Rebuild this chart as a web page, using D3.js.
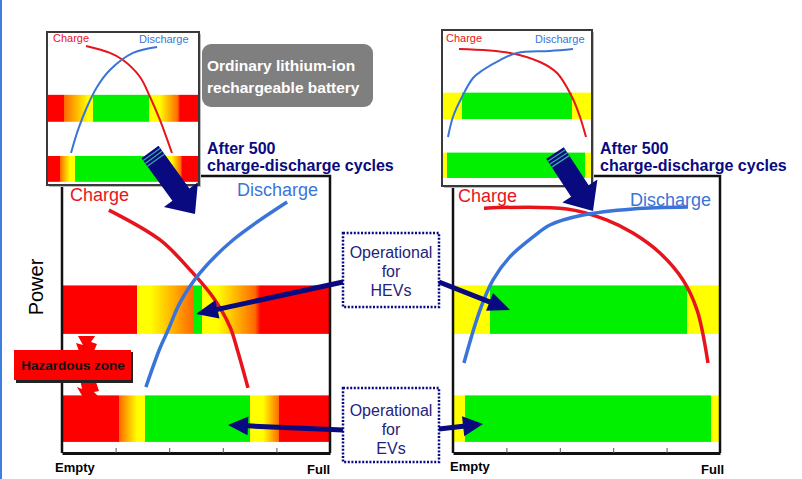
<!DOCTYPE html>
<html>
<head>
<meta charset="utf-8">
<script src="https://cdn.jsdelivr.net/npm/d3@7"></script>
<style>
  body { margin: 0; background: #fff; }
  svg { display: block; font-family: 'Liberation Sans', Arial, sans-serif; }
</style>
</head>
<body>
<div class="canvas"></div>
<script>
// x = state of charge (%), y = power (%)
const socTicks = [20, 40, 60, 80]
const bands = ['HEV', 'EV']
const bandPower = [[43, 60.5], [4, 20.8]]
const zones = ['hazard', 'marginal', 'caution', 'operational']

// ordinary battery, new (small inset)
const ordNewCharge = [[25.7, 92.2], [41.4, 87.7], [50.0, 83.1], [61.2, 72.1], [67.8, 59.1], [74.3, 44.2], [82.2, 22.7]]
const ordNewDischarge = [[72.4, 91.6], [56.6, 87.7], [41.4, 76.6], [32.9, 65.6], [26.3, 52.6], [20.4, 37.7], [15.8, 22.7]]
const ordNewHEV = [[0, 'hazard'], [11.2, 'hazard'], [11.2, 'marginal'], [27, 'caution'], [30.3, 'caution'], [30.3, 'operational'],
  [67.1, 'operational'], [67.1, 'caution'], [74, 'caution'], [86, 'marginal'], [87.5, 'hazard'], [100, 'hazard']]
const ordNewEV = [[0, 'hazard'], [8.6, 'hazard'], [8.6, 'marginal'], [15, 'caution'], [18.4, 'caution'], [18.4, 'operational'],
  [77.6, 'operational'], [77.6, 'caution'], [82, 'caution'], [88, 'marginal'], [89, 'hazard'], [100, 'hazard']]

// ordinary battery after 500 cycles
const ordAgedCharge = [[17.5, 87.7], [36.6, 76.9], [47.8, 66.1], [56.3, 56.3], [62.7, 45.5], [65.5, 37], [69.4, 23.5]]
const ordAgedDischarge = [[84.0, 90.6], [63.8, 76.9], [51.5, 65.0], [44.0, 54.2], [39.6, 44.4], [36.6, 38], [31.3, 23.8]]
const ordAgedHEV = [[0, 'hazard'], [28, 'hazard'], [28, 'caution'], [33, 'caution'], [49, 'marginal'], [49, 'operational'],
  [52.2, 'operational'], [52.2, 'caution'], [58, 'caution'], [72, 'marginal'], [74, 'hazard'], [100, 'hazard']]
const ordAgedEV = [[0, 'hazard'], [21.3, 'hazard'], [21.3, 'marginal'], [28, 'caution'], [31, 'caution'], [31, 'operational'],
  [70.1, 'operational'], [70.1, 'caution'], [75, 'caution'], [81, 'marginal'], [81, 'hazard'], [100, 'hazard']]

// second battery, new (small inset)
const newCharge = [[11.3, 89.4], [45.3, 86.8], [65.3, 80.8], [76.7, 73.5], [86.7, 57.6], [92.0, 44.4], [96.0, 31.1]]
const newDischarge = [[4.0, 31.1], [7.3, 44.4], [13.3, 57.6], [20.7, 70.2], [27.3, 75.5], [38.7, 82.1], [50.0, 86.8], [72.0, 88.1], [87.3, 89.4]]
const newHEV = [[0, 'caution'], [13.3, 'caution'], [13.3, 'operational'], [86.7, 'operational'], [86.7, 'caution'], [100, 'caution']]
const newEV = [[0, 'caution'], [3.3, 'caution'], [3.3, 'operational'], [95.3, 'operational'], [95.3, 'caution'], [100, 'caution']]

// second battery after 500 cycles
const agedCharge = [[11.6, 88.4], [42.7, 88.1], [57.7, 84.1], [67.4, 79.4], [77.5, 72.2], [86.1, 62.5], [91.4, 51.6], [95.5, 32.5]]
const agedDischarge = [[4.1, 32.5], [10.1, 51.6], [15.0, 62.5], [21.3, 70.8], [30.0, 78.0], [36.3, 82.3], [48.7, 85.9], [67.4, 88.1], [88.0, 88.8]]
const agedHEV = [[0, 'caution'], [13.9, 'caution'], [13.9, 'operational'], [87.6, 'operational'], [87.6, 'caution'], [100, 'caution']]
const agedEV = [[0, 'caution'], [4.5, 'caution'], [4.5, 'operational'], [96.6, 'operational'], [96.6, 'caution'], [100, 'caution']]

const red = '#e8141c'
const blue = '#3b74d8'
const navy = '#0a0a80'

const svg = d3.select('.canvas')
  .append('svg')
    .attr('width', 802)
    .attr('height', 479)

const defs = svg.append('defs')

const zoneColor = d3.scaleOrdinal()
  .domain(zones)
  .range(['#fe0000', '#ff6a00', '#ffff00', '#00f000'])

// thin blue edge on the left of the picture
svg.append('rect').attr('x', 0).attr('y', 0).attr('width', 2).attr('height', 479).attr('fill', '#3d7fe0')

function drawPanel(p) {
  const x = d3.scaleLinear().domain([0, 100]).range([p.x0, p.x1])
  const y = d3.scaleLinear().domain([0, 100]).range([p.sy1, p.sy0])
  const g = svg.append('g')

  if (p.inset) {
    g.append('rect')
      .attr('x', p.x0 + 2).attr('y', p.y0 + 2)
      .attr('width', p.x1 - p.x0).attr('height', p.y1 - p.y0)
      .attr('fill', '#bbb')
    g.append('rect')
      .attr('x', p.x0).attr('y', p.y0)
      .attr('width', p.x1 - p.x0).attr('height', p.y1 - p.y0)
      .attr('fill', '#fff')
  }

  bands.forEach((b, i) => {
    const id = p.id + '-' + b
    const grad = defs.append('linearGradient')
      .attr('id', id)
      .attr('gradientUnits', 'userSpaceOnUse')
      .attr('x1', x(0)).attr('x2', x(100))
      .attr('y1', 0).attr('y2', 0)
    grad.selectAll('stop')
      .data(p.zones[i])
      .join('stop')
        .attr('offset', d => d[0] + '%')
        .attr('stop-color', d => zoneColor(d[1]))
    g.append('rect')
      .attr('x', x(0))
      .attr('width', x(100) - x(0))
      .attr('y', y(bandPower[i][1]))
      .attr('height', y(bandPower[i][0]) - y(bandPower[i][1]))
      .attr('fill', `url(#${id})`)
  })

  const line = d3.line()
    .x(d => x(d[0]))
    .y(d => y(d[1]))
    .curve(d3.curveCatmullRom)

  g.append('path').datum(p.charge)
    .attr('d', line).attr('fill', 'none')
    .attr('stroke', red).attr('stroke-width', p.inset ? 2 : 3.5)
  g.append('path').datum(p.discharge)
    .attr('d', line).attr('fill', 'none')
    .attr('stroke', blue).attr('stroke-width', p.inset ? 2 : 3.5)

  if (p.inset) {
    g.append('rect')
      .attr('x', p.x0).attr('y', p.y0)
      .attr('width', p.x1 - p.x0).attr('height', p.y1 - p.y0)
      .attr('fill', 'none').attr('stroke', '#3a3a3a').attr('stroke-width', 2)
  } else {
    g.append('path')
      .attr('d', `M${p.x0},${p.y1}V${p.y0}H${p.x1}V${p.y1}`)
      .attr('fill', 'none').attr('stroke', '#111').attr('stroke-width', 2.5)
    const axis = g.append('g')
      .attr('transform', `translate(0,${p.y1})`)
      .call(d3.axisBottom(x).tickValues(socTicks).tickSize(-5).tickSizeOuter(0).tickFormat(''))
    axis.select('.domain').attr('stroke', '#111').attr('stroke-width', 3)
    axis.selectAll('.tick line').attr('stroke', '#555')
  }

  const fs = p.inset ? 11 : 18
  g.append('text').text('Charge')
    .attr('x', p.cLabel[0]).attr('y', p.cLabel[1])
    .attr('fill', red).attr('font-size', fs)
  g.append('text').text('Discharge')
    .attr('x', p.dLabel[0]).attr('y', p.dLabel[1])
    .attr('fill', blue).attr('font-size', fs)
}

// main panels first, insets on top
drawPanel({ id: 'ordAged', x0: 62, x1: 330, y0: 176, y1: 453, sy0: 176, sy1: 453,
  zones: [ordAgedHEV, ordAgedEV], charge: ordAgedCharge, discharge: ordAgedDischarge,
  cLabel: [70, 201], dLabel: [237, 196] })
drawPanel({ id: 'aged', x0: 453, x1: 720, y0: 176, y1: 453, sy0: 176, sy1: 453,
  zones: [agedHEV, agedEV], charge: agedCharge, discharge: agedDischarge,
  cLabel: [458, 202], dLabel: [630, 206] })
drawPanel({ id: 'ordNew', inset: true, x0: 47, x1: 199, y0: 32, y1: 185, sy0: 34, sy1: 188,
  zones: [ordNewHEV, ordNewEV], charge: ordNewCharge, discharge: ordNewDischarge,
  cLabel: [53, 42], dLabel: [139, 43] })
drawPanel({ id: 'new', inset: true, x0: 442, x1: 592, y0: 30, y1: 186, sy0: 33, sy1: 184,
  zones: [newHEV, newEV], charge: newCharge, discharge: newDischarge,
  cLabel: [446, 42], dLabel: [535, 43] })

// arrow polygon from tail to tip
function arrowPoints(x1, y1, x2, y2, shaftW, headW, headL) {
  const len = Math.hypot(x2 - x1, y2 - y1)
  const ux = (x2 - x1) / len, uy = (y2 - y1) / len
  const nx = -uy, ny = ux
  const bx = x2 - ux * headL, by = y2 - uy * headL
  return [
    [x1 + nx * shaftW / 2, y1 + ny * shaftW / 2],
    [bx + nx * shaftW / 2, by + ny * shaftW / 2],
    [bx + nx * headW / 2, by + ny * headW / 2],
    [x2, y2],
    [bx - nx * headW / 2, by - ny * headW / 2],
    [bx - nx * shaftW / 2, by - ny * shaftW / 2],
    [x1 - nx * shaftW / 2, y1 - ny * shaftW / 2]
  ].map(p => p.join(',')).join(' ')
}

function bigArrow(x1, y1, x2, y2) {
  svg.append('polygon')
    .attr('points', arrowPoints(x1, y1, x2, y2, 21, 42, 24))
    .attr('fill', navy)
  const len = Math.hypot(x2 - x1, y2 - y1)
  const ux = (x2 - x1) / len, uy = (y2 - y1) / len
  const nx = -uy, ny = ux
  ;[3, 6.5, 10].forEach(d => {
    const cx = x1 + ux * d, cy = y1 + uy * d
    svg.append('line')
      .attr('x1', cx + nx * 10.5).attr('y1', cy + ny * 10.5)
      .attr('x2', cx - nx * 10.5).attr('y2', cy - ny * 10.5)
      .attr('stroke', '#3aa6a0').attr('stroke-width', 1.3)
  })
}

bigArrow(150, 152, 195, 214)
bigArrow(555, 153, 593, 211)

// grey title box
svg.append('rect')
  .attr('x', 202).attr('y', 44).attr('width', 171).attr('height', 63).attr('rx', 9)
  .attr('fill', '#7f7f7f')
svg.append('text').attr('x', 207).attr('y', 71)
  .attr('fill', '#fff').attr('font-weight', 'bold').attr('font-size', 15.5)
  .text('Ordinary lithium-ion')
svg.append('text').attr('x', 207).attr('y', 93)
  .attr('fill', '#fff').attr('font-weight', 'bold').attr('font-size', 15.5)
  .text('rechargeable battery')

// "after 500 cycles" captions
;[207, 600].forEach(x => {
  svg.append('text').attr('x', x).attr('y', 154)
    .attr('fill', navy).attr('font-weight', 'bold').attr('font-size', 16)
    .text('After 500')
  svg.append('text').attr('x', x).attr('y', 171)
    .attr('fill', navy).attr('font-weight', 'bold').attr('font-size', 16)
    .text('charge-discharge cycles')
})

// y-axis title
svg.append('text')
  .attr('transform', 'translate(43,287) rotate(-90)')
  .attr('text-anchor', 'middle').attr('font-size', 20)
  .text('Power')

// Empty / Full
;[[55, 472, 'Empty'], [307, 474, 'Full'], [450, 471, 'Empty'], [701, 474, 'Full']].forEach(d => {
  svg.append('text').attr('x', d[0]).attr('y', d[1])
    .attr('font-weight', 'bold').attr('font-size', 13)
    .text(d[2])
})

// operational boxes and their arrows
const opBoxes = [
  { y: 233, lines: ['Operational', 'for', 'HEVs'], base: 258 },
  { y: 388, lines: ['Operational', 'for', 'EVs'], base: 416 }
]
opBoxes.forEach(b => {
  svg.append('rect')
    .attr('x', 343).attr('y', b.y).attr('width', 96).attr('height', 74)
    .attr('fill', '#fff').attr('stroke', navy).attr('stroke-width', 2.5)
    .attr('stroke-dasharray', '2 1.6')
  b.lines.forEach((t, i) => {
    svg.append('text')
      .attr('x', 391).attr('y', b.base + i * 19)
      .attr('text-anchor', 'middle').attr('font-size', 16)
      .attr('fill', '#23237d')
      .text(t)
  })
})

;[[343, 282, 196, 314, 5, 19, 22], [439, 282, 510, 310, 5, 19, 22],
  [343, 430, 228, 425, 5, 19, 20], [439, 429, 483, 424, 5, 20, 20]].forEach(a => {
  svg.append('polygon').attr('points', arrowPoints(...a)).attr('fill', navy)
})

// hazardous zone callout
svg.append('polygon')
  .attr('points', '79,351 76,343 83,345 78,336 95,336 91,342 97,344 94,351')
  .attr('fill', '#fe0000')
svg.append('polygon')
  .attr('points', '80,379 82,389 77,387 84,399 101,399 94,392 99,391 95,379')
  .attr('fill', '#fe0000')
svg.append('rect').attr('x', 16).attr('y', 352).attr('width', 117).attr('height', 31).attr('fill', '#222')
svg.append('rect').attr('x', 14).attr('y', 350).attr('width', 117).attr('height', 30).attr('fill', '#fe0000')
svg.append('text')
  .attr('x', 73).attr('y', 370).attr('text-anchor', 'middle')
  .attr('font-weight', 'bold').attr('font-size', 13.5).attr('fill', '#111')
  .text('Hazardous zone')
</script>
</body>
</html>
